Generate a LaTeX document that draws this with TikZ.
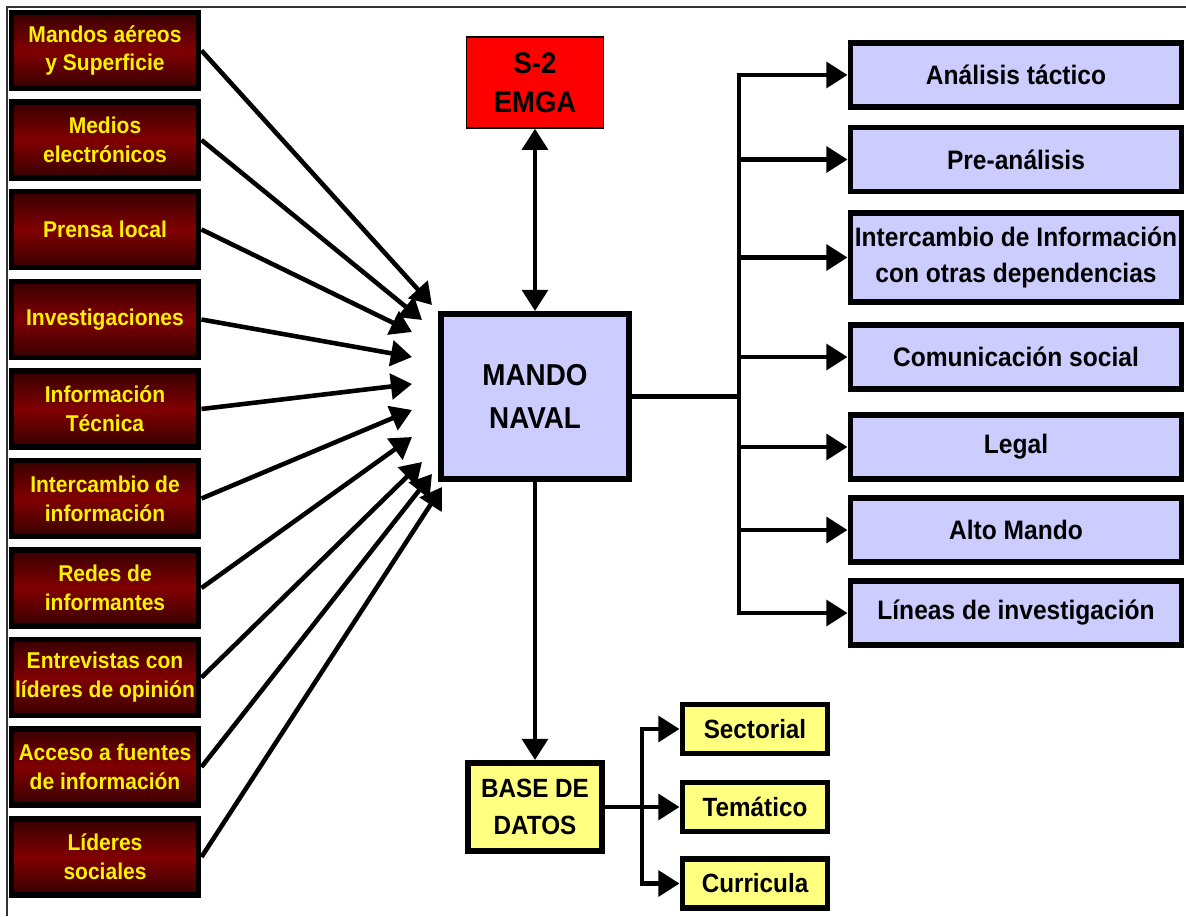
\documentclass[tikz,border=0pt]{standalone}
\usepackage{fontspec}
\setmainfont{Liberation Sans}[FakeStretch=0.92]
\usetikzlibrary{arrows.meta}
\definecolor{lavanda}{RGB}{204,204,255}
\definecolor{amarillo}{RGB}{255,255,128}
\definecolor{rojooscuro}{RGB}{128,0,0}
\definecolor{rojonegro}{RGB}{56,0,0}
\tikzset{
  caja/.style={draw=black,line width=3.4pt,align=center,inner sep=0pt},
  fuente/.style={caja,top color=rojonegro,bottom color=rojonegro,middle color=rojooscuro,
    text=yellow,minimum width=3.74cm,minimum height=1.52cm,
    font=\fontsize{13}{16.5}\selectfont\bfseries},
  destino/.style={caja,fill=lavanda,minimum width=6.62cm,minimum height=1.28cm,
    font=\fontsize{15.2}{20}\selectfont\bfseries},
  datos/.style={caja,fill=amarillo,minimum width=2.9cm,minimum height=0.98cm,
    font=\fontsize{15}{21}\selectfont\bfseries},
  linea/.style={line width=2.6pt},
  marco/.style={line width=1.7pt,black!80}
}
\begin{document}
\begin{tikzpicture}[>={Triangle[length=12pt,width=14.5pt]}]
   \useasboundingbox (0,0) rectangle (23.72,18.32);
   \draw [marco] (0.14,0) -- (0.14,18.18) -- (23.72,18.18);
   % fuentes
   \node [fuente] (f1) at (2.1,17.31) {Mandos aéreos\\y Superficie};
   \node [fuente] (f2) at (2.1,15.52) {Medios\\electrónicos};
   \node [fuente] (f3) at (2.1,13.73) {Prensa local};
   \node [fuente] (f4) at (2.1,11.93) {Investigaciones};
   \node [fuente] (f5) at (2.1,10.14) {Información\\Técnica};
   \node [fuente] (f6) at (2.1,8.35) {Intercambio de\\información};
   \node [fuente] (f7) at (2.1,6.56) {Redes de\\informantes};
   \node [fuente] (f8) at (2.1,4.77) {Entrevistas con\\líderes de opinión};
   \node [fuente] (f9) at (2.1,2.98) {Acceso a fuentes\\de información};
   \node [fuente] (f10) at (2.1,1.18) {Líderes\\sociales};
   % centro
   \node [caja,fill=lavanda,minimum width=3.76cm,minimum height=3.3cm,
     font=\fontsize{17.2}{24}\selectfont\bfseries] (mando) at (10.7,10.39) {MANDO\\NAVAL};
   \node [caja,line width=0.8pt,fill=red,minimum width=2.74cm,minimum height=1.82cm,
     font=\fontsize{17}{22}\selectfont\bfseries] (s2) at (10.7,16.67) {S-2\\EMGA};
   \node [datos,minimum width=2.68cm,minimum height=1.76cm] (base) at (10.7,2.18) {BASE DE\\DATOS};
   \node [datos] (sec) at (15.1,3.74) {Sectorial};
   \node [datos] (tem) at (15.1,2.18) {Temático};
   \node [datos] (cur) at (15.1,0.65) {Curricula};
   % destinos
   \node [destino] (d1) at (20.32,16.82) {Análisis táctico};
   \node [destino] (d2) at (20.32,15.13) {Pre-análisis};
   \node [destino,minimum height=1.78cm] (d3) at (20.32,13.17) {Intercambio de Información\\con otras dependencias};
   \node [destino] (d4) at (20.32,11.18) {Comunicación social};
   \node [destino] (d5) at (20.32,9.38) {Legal};
   \node [destino] (d6) at (20.32,7.72) {Alto Mando};
   \node [destino] (d7) at (20.32,6.06) {Líneas de investigación};
   % flechas de entrada
   \foreach \i/\x/\y in {1/8.64/12.22, 2/8.44/11.92, 3/8.24/11.68, 4/8.24/11.18, 5/8.24/10.64,
       6/8.24/10.12, 7/8.24/9.58, 8/8.44/9.08, 9/8.64/8.84, 10/8.84/8.58}
     \draw [linea,->] (f\i.east) -- (\x,\y);
   \draw [linea,<->] (s2.south) -- (mando.north);
   \draw [linea,->] (mando.south) -- (base.north);
   % salidas
   \coordinate (busR) at (14.78,10.39);
   \draw [linea] (mando.east) -- (busR);
   \draw [linea,line cap=rect] (busR |- d1.west) -- (busR |- d7.west);
   \foreach \i in {1,...,7}
     \draw [linea,->] (busR |- d\i.west) -- (d\i.west);
   \coordinate (busB) at (12.84,2.18);
   \draw [linea] (base.east) -- (busB);
   \draw [linea,line cap=rect] (busB |- sec.west) -- (busB |- cur.west);
   \foreach \n in {sec,tem,cur}
     \draw [linea,->] (busB |- \n.west) -- (\n.west);
\end{tikzpicture}
\end{document}
